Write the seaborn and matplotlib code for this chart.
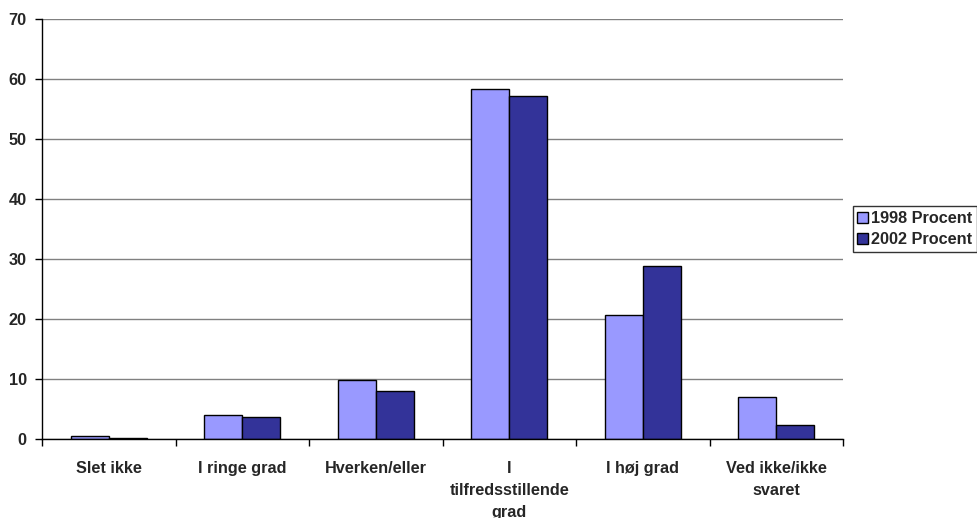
import matplotlib
matplotlib.use("Agg")
import matplotlib.pyplot as plt
import seaborn as sns
import pandas as pd
import numpy as np

categories = ["Slet ikke", "I ringe grad", "Hverken/eller",
              "I\ntilfredsstillende\ngrad", "I høj grad", "Ved ikke/ikke\nsvaret"]
series_names = ["1998 Procent", "2002 Procent"]
values_1998 = [0.5, 4.0, 9.8, 58.4, 20.7, 7.0]
values_2002 = [0.2, 3.7, 8.0, 57.2, 28.9, 2.3]
y_ticks = [0, 10, 20, 30, 40, 50, 60, 70]
colors = ["#9999FF", "#333399"]

df = pd.DataFrame({
    "cat": categories * 2,
    "series": [series_names[0]] * len(categories) + [series_names[1]] * len(categories),
    "value": values_1998 + values_2002,
})

sns.set_theme(style="white")
plt.rcParams["font.family"] = ["Liberation Sans", "DejaVu Sans"]
plt.rcParams["font.weight"] = "bold"

FS = 11.7

fig = plt.figure(figsize=(9.77, 5.18), dpi=100)
ax = fig.add_axes([42 / 977, 1 - 439 / 518, (843 - 42) / 977, (439 - 19) / 518])

sns.barplot(data=df, x="cat", y="value", hue="series", order=categories,
            hue_order=series_names, palette=colors, width=0.57,
            edgecolor="black", linewidth=1.0, ax=ax, saturation=1.0, legend=True)

ax.set_xlim(-0.5, len(categories) - 0.5)
ax.set_ylim(0, 70)
ax.set_yticks(y_ticks)
ax.set_yticklabels([str(t) for t in y_ticks], fontsize=FS, fontweight="bold")
ax.yaxis.grid(True, color="#808080", linewidth=1.0)
ax.set_axisbelow(True)
ax.set_xlabel("")
ax.set_ylabel("")

ax.set_xticks(range(len(categories)))
ax.set_xticklabels(categories, fontsize=FS, fontweight="bold", linespacing=1.6)
ax.set_xticks(np.arange(-0.5, len(categories), 1.0), minor=True)
ax.tick_params(axis="x", which="major", length=0, pad=15.5)
ax.tick_params(axis="x", which="minor", length=5, width=1, color="black", direction="out", bottom=True)
ax.tick_params(axis="y", which="major", length=5, width=1, color="black", direction="out", left=True, pad=6)

for s in ["top", "right"]:
    ax.spines[s].set_visible(False)
for s in ["left", "bottom"]:
    ax.spines[s].set_color("black")
    ax.spines[s].set_linewidth(1.0)

leg = ax.legend(loc="center left", bbox_to_anchor=(1.012, 0.5), frameon=True,
                fancybox=False, edgecolor="black", prop={"size": FS, "weight": "bold"},
                handlelength=0.65, handleheight=0.65, handletextpad=0.2,
                borderpad=0.3, labelspacing=0.35, borderaxespad=0)
leg.get_frame().set_linewidth(1.0)

fig.savefig("out.png", dpi=100)
